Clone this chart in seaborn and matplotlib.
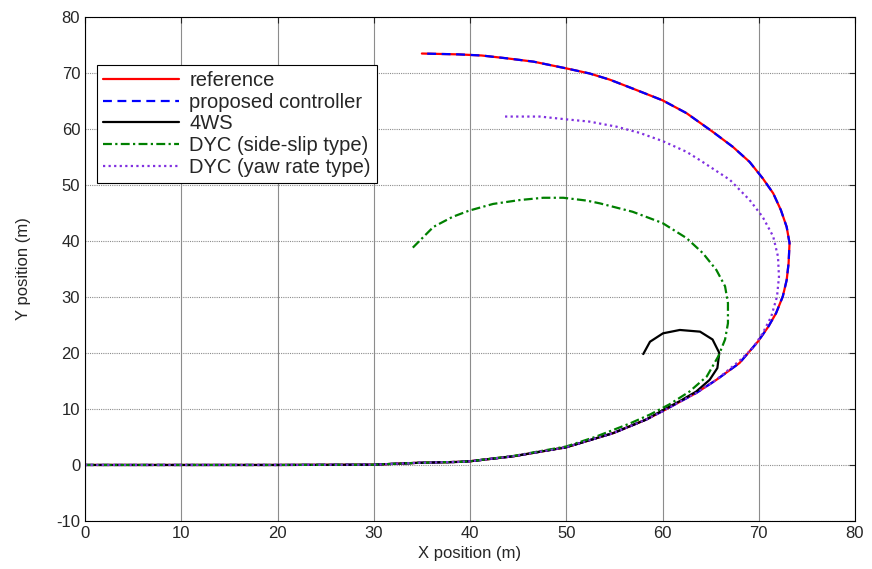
import pandas as pd
import seaborn as sns
import matplotlib
matplotlib.use('Agg')
import matplotlib.pyplot as plt

# trajectories (x, y in metres)
ref_x = [0, 10, 20, 30, 34.4, 38.9, 40, 44.5, 50, 54.9, 58.3, 60, 63.5, 65.6, 68, 69.9, 71, 71.8, 72.5, 72.9,
         73.1, 73.2, 72.9, 72.3, 71.5, 70.4, 69.05, 67.3, 65.2, 62.5, 60, 56.9, 54.5, 52.4, 50, 46.6, 43.8,
         41.2, 38.8, 35]
ref_y = [0, 0, 0, 0.05, 0.37, 0.55, 0.66, 1.55, 3.16, 5.7, 8.1, 9.6, 12.85, 15.2, 18.2, 22.0, 24.7, 27.1, 30.1, 33,
         36, 39.6, 42.5, 45.5, 48.5, 51.2, 54.1, 56.8, 59.5, 62.8, 65.1, 67.2, 68.8, 69.9, 70.8, 72.0, 72.6,
         73.1, 73.3, 73.45]

# proposed controller sits right on top of the reference
ctrl_x = [0, 10, 20, 30, 34.4, 38.9, 40, 44.5, 50, 54.9, 58.3, 60, 63.5, 65.6, 68, 69.9, 71, 71.8, 72.5, 72.9,
          73.1, 73.2, 72.9, 72.3, 71.5, 70.4, 69.05, 67.3, 65.2, 62.5, 60, 56.9, 54.5, 52.4, 50, 46.6, 43.8,
          41.2, 38.8, 35]
ctrl_y = [0, 0, 0, 0.05, 0.37, 0.55, 0.66, 1.55, 3.16, 5.7, 8.1, 9.6, 12.85, 15.2, 18.2, 22.0, 24.7, 27.1, 30.1, 33,
          36, 39.6, 42.5, 45.5, 48.5, 51.2, 54.1, 56.8, 59.5, 62.8, 65.1, 67.2, 68.8, 69.9, 70.8, 72.0, 72.6,
          73.1, 73.3, 73.45]

ws_x = [0, 10, 20, 30, 34.4, 38.9, 40, 44.5, 50, 54.9, 58.3, 60.05, 61.8, 63.5, 64.9, 65.7, 65.9, 65.2, 63.9,
        61.8, 60.05, 58.7, 58.0]
ws_y = [0, 0, 0, 0.05, 0.37, 0.55, 0.66, 1.55, 3.16, 5.7, 8.1, 9.8, 11.4, 13.1, 15.2, 17.3, 20.0, 22.4, 23.8,
        24.1, 23.5, 22.0, 19.8]

ss_x = [0, 10, 20, 30, 34.4, 38.9, 40, 44.5, 50, 53, 56.6, 58.7, 60.7, 62.8, 64.6, 65.8, 66.5, 66.8, 66.8, 66.5,
        65.6, 64.2, 62.5, 59.99, 56.9, 53.5, 52.1, 49.7, 47.6, 45.2, 42.4, 39.9, 38.2, 36.2, 34.0]
ss_y = [0, 0, 0, 0.05, 0.37, 0.55, 0.66, 1.6, 3.3, 5.0, 7.4, 9.0, 10.8, 13.1, 15.8, 19.4, 22.4, 25.3, 28.9, 31.9,
        34.8, 37.8, 40.5, 43.2, 45.2, 46.7, 47.2, 47.7, 47.7, 47.3, 46.6, 45.4, 44.3, 42.5, 38.7]

yr_x = [0, 10, 20, 30, 34.4, 38.9, 40, 44.5, 50, 54.9, 58.3, 60, 63.5, 65.6, 68, 69.4, 70.4, 71.3, 71.9, 72.1,
        72.0, 71.5, 70.4, 69.05, 67, 63.9, 62.5, 60.05, 57.6, 55.2, 52.4, 50, 47.25, 43.4]
yr_y = [0, 0, 0, 0.05, 0.37, 0.55, 0.66, 1.55, 3.16, 5.7, 8.1, 9.6, 12.85, 15.2, 18.6, 20.9, 23.5, 26.5, 30.1, 33.6,
        37.2, 40.8, 44.3, 47.3, 50.9, 54.4, 55.9, 57.8, 59.3, 60.4, 61.3, 61.7, 62.2, 62.2]

sns.set_style('white')
plt.rcParams['font.family'] = ['Liberation Sans', 'DejaVu Sans']
plt.rcParams['axes.unicode_minus'] = False

fig = plt.figure(figsize=(8.72, 5.69), dpi=100)
ax = fig.add_axes([0.0975, 0.0844, 0.883, 0.886])

series = [
    ('reference', ref_x, ref_y, '#ff0000', '-'),
    ('proposed controller', ctrl_x, ctrl_y, '#0000ff', (0, (4, 2.5))),
    ('4WS', ws_x, ws_y, '#000000', '-'),
    ('DYC (side-slip type)', ss_x, ss_y, '#008000', (0, (4, 1.5, 1, 1.5))),
    ('DYC (yaw rate type)', yr_x, yr_y, '#8030e0', (0, (1, 1.5))),
]
for name, xs, ys, col, ls in series:
    df = pd.DataFrame({'x': xs, 'y': ys})
    sns.lineplot(data=df, x='x', y='y', sort=False, estimator=None, color=col,
                 linestyle=ls, linewidth=1.6, label=name, ax=ax)

ax.set_xlim(0, 80)
ax.set_ylim(-10, 80)
ax.set_xticks(range(0, 81, 10))
ax.set_yticks(range(-10, 81, 10))
ax.xaxis.grid(True, color='#8c8c8c', linewidth=0.8, linestyle='-')
ax.yaxis.grid(True, color='#8c8c8c', linewidth=0.8, linestyle=(0, (1, 1)))
ax.tick_params(direction='in', top=True, right=True, length=4, labelsize=12, width=0.8)
for s in ax.spines.values():
    s.set_color('black')
    s.set_linewidth(0.8)
ax.set_xlabel('X position (m)', fontsize=12, labelpad=4)
ax.set_ylabel('Y position (m)', fontsize=12, labelpad=18)

leg = ax.legend(loc='upper left', bbox_to_anchor=(0.015, 0.905), fontsize=14.5,
                frameon=True, fancybox=False, framealpha=1, edgecolor='black',
                labelspacing=0.14, handlelength=3.8, borderpad=0.3, handletextpad=0.5,
                borderaxespad=0)
leg.get_frame().set_linewidth(0.8)

fig.savefig('out.png', dpi=100)
